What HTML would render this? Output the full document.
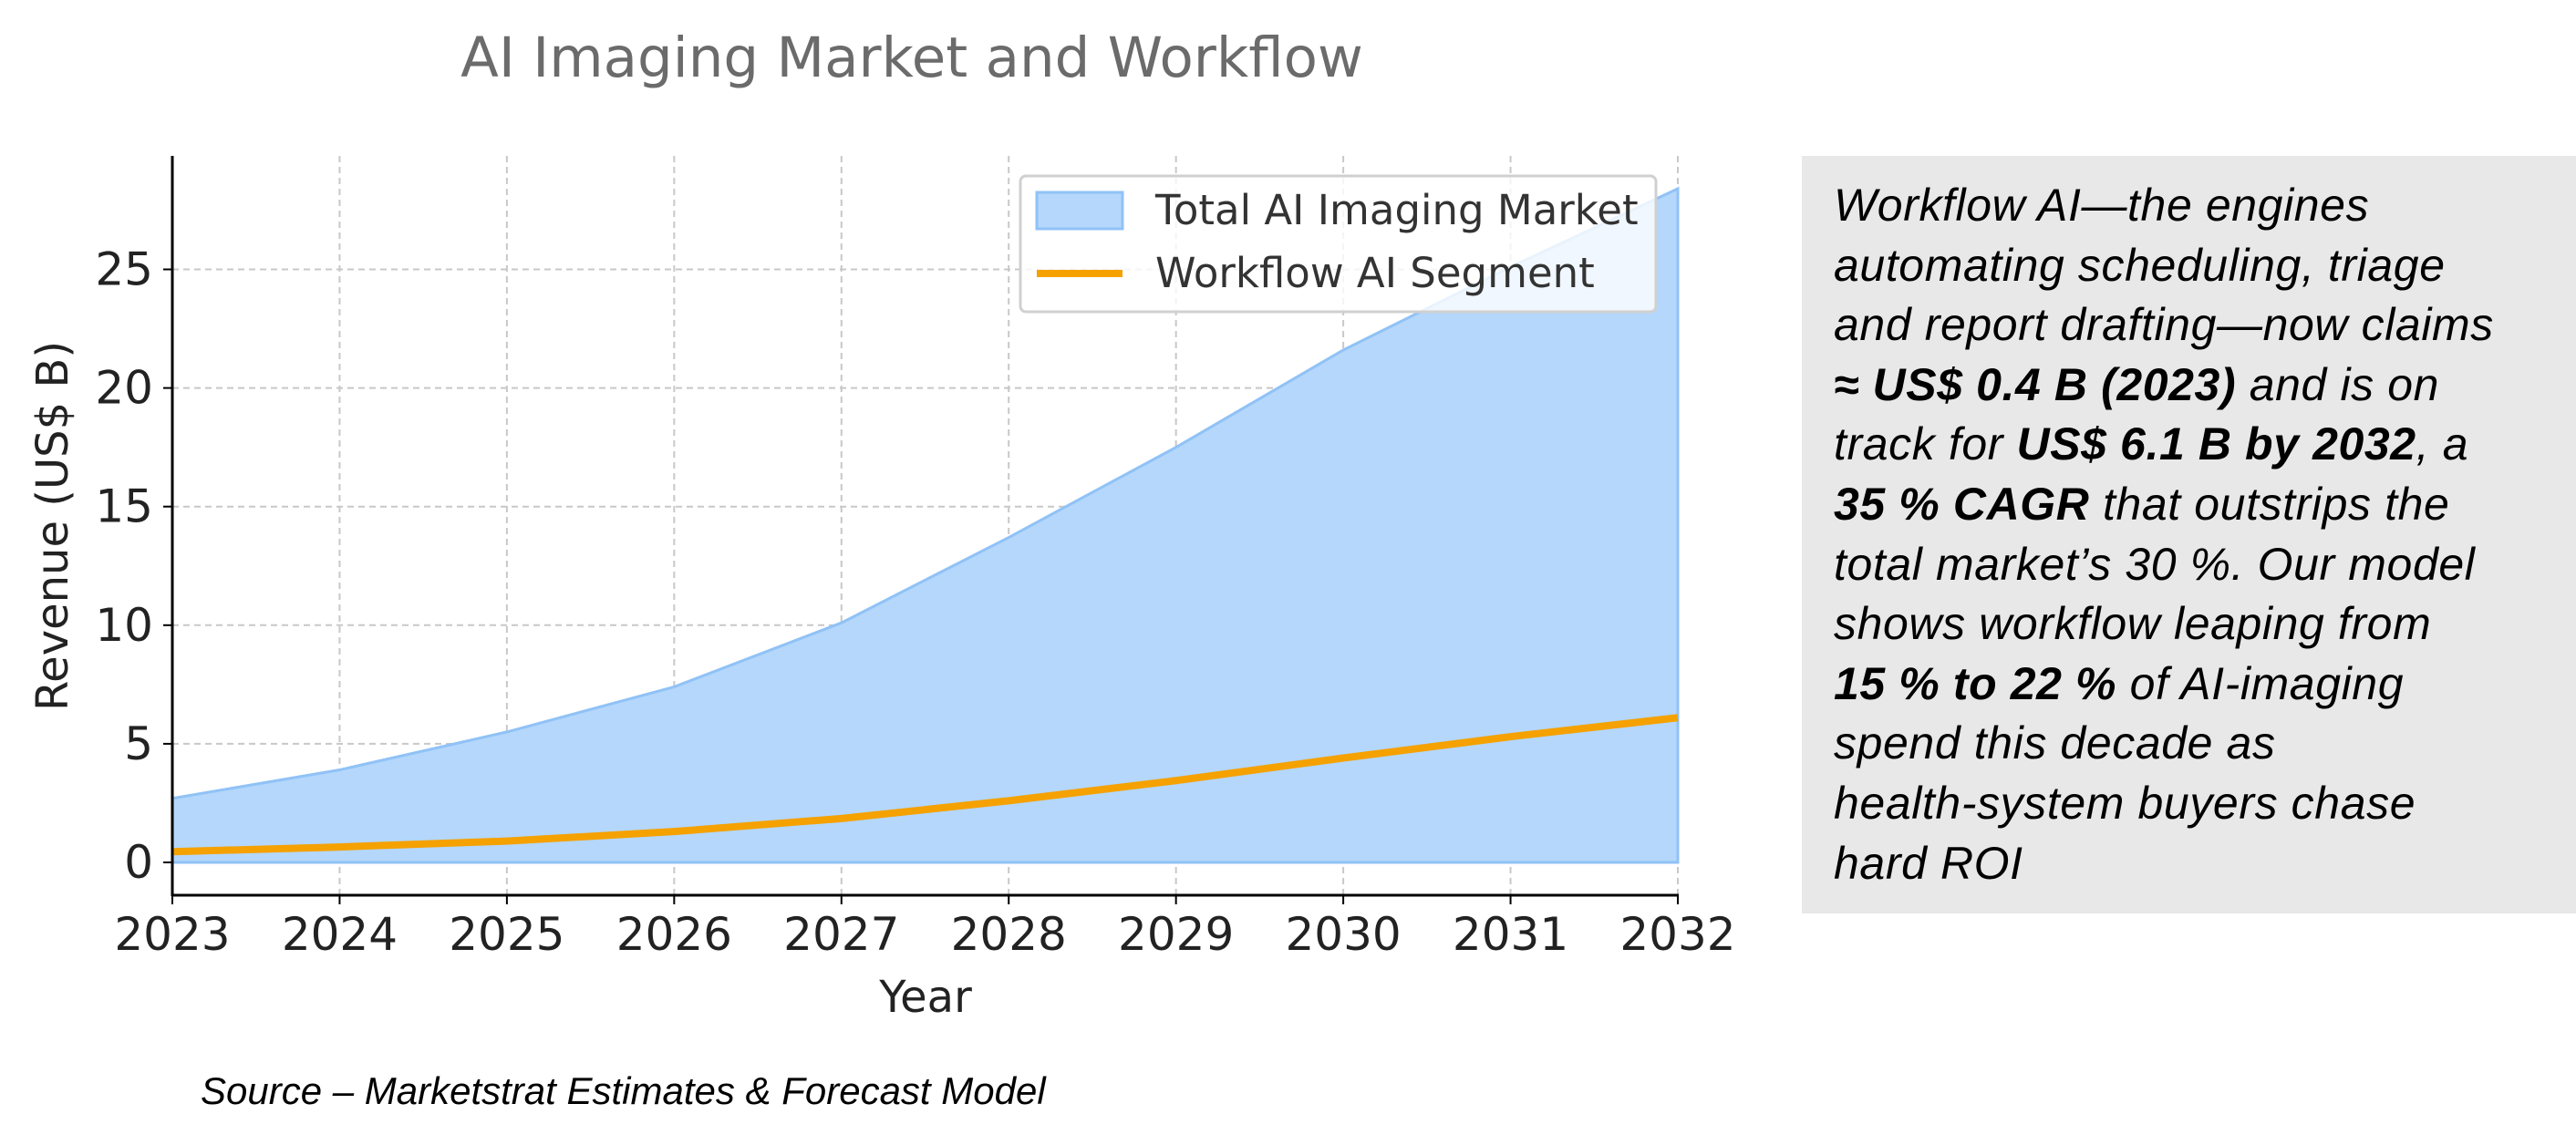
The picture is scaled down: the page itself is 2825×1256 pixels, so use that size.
<!DOCTYPE html>
<html><head><meta charset="utf-8"><style>
html,body{margin:0;padding:0;background:#fff;}
body{width:2825px;height:1256px;position:relative;overflow:hidden;font-family:"Liberation Sans","DejaVu Sans",sans-serif;}
#note{position:absolute;left:1976px;top:171px;width:849px;height:831px;background:#e8e8e8;}
#note p{margin:0;position:absolute;left:35px;top:22px;font-style:italic;font-size:50px;letter-spacing:0.6px;line-height:65.6px;color:#000;white-space:nowrap;}
#src{position:absolute;left:220px;top:1173px;font-style:italic;font-size:42px;color:#000;}
</style></head><body>
<svg id="chart" width="1960" height="1160" style="position:absolute;left:0;top:0" font-family="DejaVu Sans, Liberation Sans, sans-serif"></svg>
<div id="note"><p>Workflow AI—the engines<br>automating scheduling, triage<br>and report drafting—now claims<br><b>≈ US$ 0.4 B (2023)</b> and is on<br>track for <b>US$ 6.1 B by 2032</b>, a<br><b>35 % CAGR</b> that outstrips the<br>total market’s 30 %. Our model<br>shows workflow leaping from<br><b>15 % to 22 %</b> of AI-imaging<br>spend this decade as<br>health-system buyers chase<br>hard ROI</p></div>
<div id="src">Source – Marketstrat Estimates &amp; Forecast Model</div>
<script>
const years=[2023,2024,2025,2026,2027,2028,2029,2030,2031,2032];
const totalMarket=[2.7,3.9,5.5,7.4,10.1,13.7,17.5,21.6,25.1,28.4];
const workflowAI=[0.45,0.65,0.9,1.3,1.85,2.6,3.45,4.4,5.3,6.1];
const yTicks=[0,5,10,15,20,25];
const NS="http://www.w3.org/2000/svg";
const svg=document.getElementById('chart');
const L=189,R=1840,Y0=946,PU=26.02;
const x=v=>L+(v-years[0])/(years[years.length-1]-years[0])*(R-L);
const y=v=>Y0-v*PU;
function mk(t,a,p){const e=document.createElementNS(NS,t);for(const k in a)e.setAttribute(k,a[k]);(p||svg).appendChild(e);return e;}
let e;
e=mk('text',{x:1000,y:84,'text-anchor':'middle','font-size':61,fill:'#6b6b6b'});e.textContent='AI Imaging Market and Workflow';


years.forEach(v=>{e=mk('line',{x1:x(v),x2:x(v),y1:171,y2:982,stroke:'#c8c8c8','stroke-width':2,'stroke-dasharray':'7,5'});

});
yTicks.forEach(v=>{e=mk('line',{x1:L,x2:R,y1:y(v),y2:y(v),stroke:'#c8c8c8','stroke-width':2,'stroke-dasharray':'7,5'});

});
let d='M'+x(years[0])+','+y(0);
years.forEach((v,i)=>{d+=' L'+x(v)+','+y(totalMarket[i]);});
d+=' L'+x(years[years.length-1])+','+y(0)+' Z';
e=mk('path',{d:d,fill:'#b4d7fb',stroke:'#90c2f6','stroke-width':3});


let pts=years.map((v,i)=>x(v)+','+y(workflowAI[i])).join(' ');
e=mk('polyline',{points:pts,fill:'none',stroke:'#f5a100','stroke-width':8,'stroke-linejoin':'round'});


e=mk('line',{x1:L,x2:L,y1:171,y2:983,stroke:'#000','stroke-width':3});


e=mk('line',{x1:L-1,x2:R+1,y1:982,y2:982,stroke:'#000','stroke-width':3});


years.forEach(v=>{mk('line',{x1:x(v),x2:x(v),y1:982,y2:992,stroke:'#000','stroke-width':2});
e=mk('text',{x:x(v),y:1042,'text-anchor':'middle','font-size':50,fill:'#222'});e.textContent=v;

});
yTicks.forEach(v=>{mk('line',{x1:L-10,x2:L,y1:y(v),y2:y(v),stroke:'#000','stroke-width':2});
e=mk('text',{x:168,y:y(v)+17,'text-anchor':'end','font-size':50,fill:'#222'});e.textContent=v;

});
e=mk('text',{x:1015,y:1110,'text-anchor':'middle','font-size':48,fill:'#222'});e.textContent='Year';


e=mk('text',{x:0,y:0,'text-anchor':'middle','font-size':48,fill:'#222',transform:'translate(74,577) rotate(-90)'});e.textContent='Revenue (US$ B)';


const g=mk('g',{});


mk('rect',{x:1119,y:193,width:697,height:149,rx:6,fill:'rgba(255,255,255,0.8)',stroke:'#d0d0d0','stroke-width':3},g);
e=mk('rect',{x:1137,y:211,width:94,height:40,fill:'#b4d7fb',stroke:'#90c2f6','stroke-width':3},g);


e=mk('text',{x:1267,y:246,'font-size':45,fill:'#333'},g);e.textContent='Total AI Imaging Market';


e=mk('line',{x1:1137,x2:1231,y1:300,y2:300,stroke:'#f5a100','stroke-width':8},g);


e=mk('text',{x:1267,y:315,'font-size':45,fill:'#333'},g);e.textContent='Workflow AI Segment';


</script>
</body></html>
